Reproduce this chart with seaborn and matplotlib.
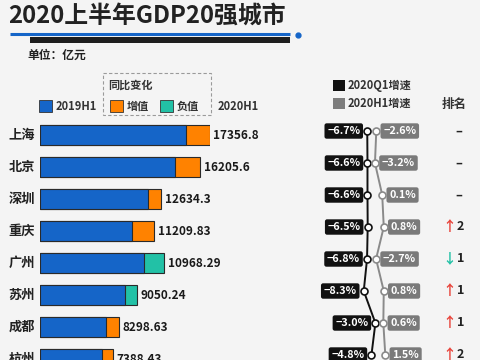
import pandas as pd
import seaborn as sns
import matplotlib.pyplot as plt
from matplotlib.patches import Rectangle

cities = ['上海', '北京', '深圳', '重庆', '广州', '苏州', '成都', '杭州']
gdp_labels = ['17356.8', '16205.6', '12634.3', '11209.83', '10968.29', '9050.24', '8298.63', '7388.43']
base_part = [14880, 13780, 11000, 9390, 10650, 8680, 6710, 6330]
change_part = [2480, 2580, 1360, 2280, 2040, 1260, 1390, 1150]
change_sign = ['增值', '增值', '增值', '增值', '负值', '负值', '增值', '增值']
growth_q1 = [-6.7, -6.6, -6.6, -6.5, -6.8, -8.3, -3.0, -4.8]
growth_h1 = [-2.6, -3.2, 0.1, 0.8, -2.7, 0.8, 0.6, 1.5]
rank_move = [0, 0, 0, 2, -1, 1, 1, 2]

BLUE = '#1565c8'
ORANGE = '#ff8200'
TEAL = '#22c1a6'
BG = '#f4f4f4'

sns.set_style('white')
plt.rcParams['font.family'] = ['Noto Sans CJK SC', 'DejaVu Sans']

fig = plt.figure(figsize=(4.8, 3.6), dpi=100, facecolor=BG)

# overlay in pixel coordinates for the decorations
deco = fig.add_axes([0, 0, 1, 1])
deco.set_xlim(0, 480)
deco.set_ylim(360, 0)
deco.axis('off')

deco.text(8, 15.5, '2020上半年GDP20强城市', fontsize=17.2, fontweight='bold',
          color='#222222', va='center', ha='left')
deco.plot([10, 290], [33.5, 33.5], color=BLUE, lw=2.2, solid_capstyle='butt')
deco.plot([298], [34.5], 'o', color=BLUE, ms=3.5)
deco.add_patch(Rectangle((30, 36.5), 260, 6, color='#1e1e1e', lw=0))
deco.text(27, 55, '单位：亿元', fontsize=8.5, fontweight='bold', va='center', color='#222222')

# legend
deco.add_patch(Rectangle((103, 73), 108, 42, fill=False, ec='#9a9a9a', lw=0.8, ls=(0, (3, 2))))
deco.text(108, 85, '同比变化', fontsize=8, fontweight='bold', va='center', color='#333333')
for x0, col, lab in [(39, BLUE, '2019H1'), (110, ORANGE, '增值'), (160, TEAL, '负值')]:
    deco.add_patch(Rectangle((x0, 100), 13, 12, fc=col, ec='#333333', lw=0.6))
    deco.text(x0 + 17, 106.5, lab, fontsize=8, fontweight='bold', va='center', color='#333333')
deco.text(218, 106.5, '2020H1', fontsize=8, fontweight='bold', va='center', color='#333333')

deco.add_patch(Rectangle((333, 80), 12, 11, fc='#111111', lw=0))
deco.text(348, 85.5, '2020Q1增速', fontsize=8, fontweight='bold', va='center', color='#333333')
deco.add_patch(Rectangle((333, 98), 12, 11, fc='#7d7d7d', lw=0))
deco.text(348, 103.5, '2020H1增速', fontsize=8, fontweight='bold', va='center', color='#333333')
deco.text(454, 104, '排名', fontsize=9, fontweight='bold', va='center', ha='center', color='#333333')

# bars
df = pd.DataFrame({'city': cities, 'base': base_part,
                   'total': [b + c for b, c in zip(base_part, change_part)],
                   'sign': change_sign})
ax_bar = fig.add_axes([40 / 480, 0, 170 / 480, 1])
ax_bar.patch.set_alpha(0)
sns.barplot(data=df, x='total', y='city', hue='sign', palette={'增值': ORANGE, '负值': TEAL},
            dodge=False, width=0.64, saturation=1, edgecolor='#2a2a2a', linewidth=0.8,
            legend=False, ax=ax_bar)
sns.barplot(data=df, x='base', y='city', color=BLUE, width=0.64, saturation=1,
            edgecolor='#2a2a2a', linewidth=0.8, ax=ax_bar)
ax_bar.set_xlim(0, 17360)
ax_bar.set_ylim(7.031, -4.219)
ax_bar.axis('off')
for i, (tot, lab) in enumerate(zip(df['total'], gdp_labels)):
    ax_bar.annotate(lab, (tot, i), xytext=(2.5, 0), textcoords='offset points',
                    ha='left', va='center', fontsize=8.5, fontweight='bold', color='#1a1a1a',
                    annotation_clip=False)
    deco.text(35, 135 + 32 * i, cities[i], fontsize=9.5, fontweight='bold',
              ha='right', va='center', color='#222222')

# growth lines
rows = list(range(len(cities)))
ax_r = fig.add_axes([320 / 480, 0, 160 / 480, 1])
ax_r.patch.set_alpha(0)
ax_r.set_xlim((320 - 382) / 2.2, (480 - 382) / 2.2)
ax_r.set_ylim(7.156, -4.094)
for vals, col in [(growth_q1, '#111111'), (growth_h1, '#8a8a8a')]:
    sns.lineplot(x=vals, y=rows, sort=False, estimator=None, color=col, lw=1.4,
                 marker='o', markersize=5, markerfacecolor='white', markeredgecolor=col,
                 markeredgewidth=1.2, ax=ax_r, zorder=4)
ax_r.axis('off')


def pct(v):
    return f'{v:.1f}%'.replace('-', '−')


for i in rows:
    ax_r.annotate(pct(growth_q1[i]), (growth_q1[i], i), xytext=(-5, 0), textcoords='offset points',
                  ha='right', va='center', color='white', fontsize=7.8, fontweight='bold', zorder=2,
                  bbox=dict(boxstyle='round,pad=0.25,rounding_size=0.2', fc='#111111', ec='none'))
    ax_r.annotate(pct(growth_h1[i]), (growth_h1[i], i), xytext=(5, 0), textcoords='offset points',
                  ha='left', va='center', color='white', fontsize=7.8, fontweight='bold', zorder=2,
                  bbox=dict(boxstyle='round,pad=0.25,rounding_size=0.2', fc='#7a7a7a', ec='none'))
    y = 131 + 32 * i
    m = rank_move[i]
    if m == 0:
        deco.text(459, y, '–', fontsize=9, fontweight='bold', ha='center', va='center', color='#222222')
    else:
        deco.text(449, y, '↑' if m > 0 else '↓', fontsize=10, fontweight='bold', ha='center',
                  va='center', color='#e8453c' if m > 0 else TEAL)
        deco.text(457, y, str(abs(m)), fontsize=9, fontweight='bold', ha='left', va='center',
                  color='#222222')

fig.savefig('out.png', dpi=100, facecolor=BG)
